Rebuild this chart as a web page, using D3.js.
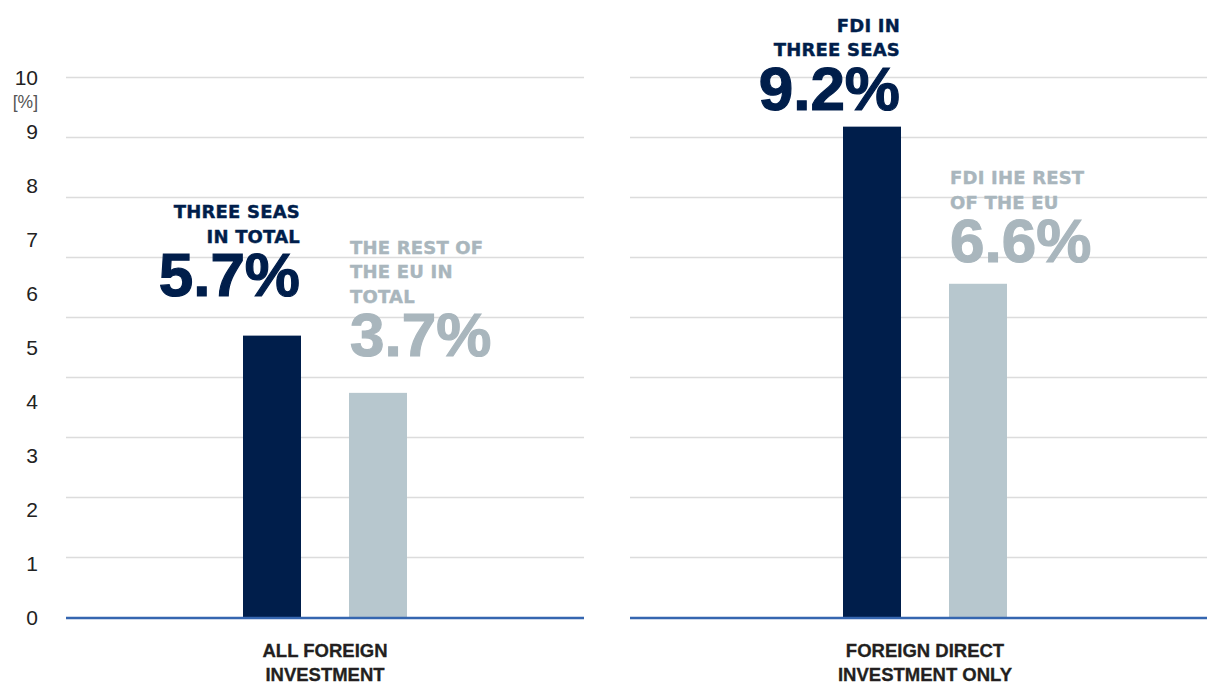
<!DOCTYPE html>
<html>
<head>
<meta charset="utf-8">
<script src="https://cdnjs.cloudflare.com/ajax/libs/d3/7.8.5/d3.min.js"></script>
<style>
  html, body { margin: 0; padding: 0; background: #fff; }
  svg { display: block; }
</style>
</head>
<body>
<svg id="chart" width="1207" height="684"></svg>
<script>
// data
var categories = [["ALL FOREIGN", "INVESTMENT"], ["FOREIGN DIRECT", "INVESTMENT ONLY"]];
var series = ["threeSeas", "restOfEu"];
var threeSeasBars = [5.22, 9.09];
var restOfEuBars = [4.16, 6.18];
var threeSeasText = ["5.7%", "9.2%"];
var restOfEuText = ["3.7%", "6.6%"];
var threeSeasCaption = [["THREE SEAS", "IN TOTAL"], ["FDI IN", "THREE SEAS"]];
var restOfEuCaption = [["THE REST OF", "THE EU IN", "TOTAL"], ["FDI IHE REST", "OF THE EU"]];
var yTicks = [0, 1, 2, 3, 4, 5, 6, 7, 8, 9, 10];
var gridCount = 9;

// layout
var panels = [[66, 584], [630, 1220]];
var numberAt = [[5.95, 4.84], [9.40, 6.58]]; // baseline of the big number, in axis units
var dark = "#001e4b", light = "#b7c7ce", lightText = "#a9b6bd";

var svg = d3.select("#chart");

var y = d3.scaleLinear().domain([0, 10]).range([617.5, 77.5]);

var inner = d3.scaleBand().domain(series).range([-82, 82]).paddingInner(48 / 106);

// grid lines (9 even steps, not on the ticks, as in the original)
var gridVals = d3.range(1, gridCount + 1).map(function(k) { return k * 10 / gridCount; });

panels.forEach(function(p) {
    svg.append("g").selectAll("line")
        .data(gridVals)
        .enter().append("line")
        .attr("x1", p[0]).attr("x2", p[1])
        .attr("y1", function(d) { return y(d); })
        .attr("y2", function(d) { return y(d); })
        .attr("stroke", "#dcdcdc")
        .attr("stroke-width", 1.5);
});

// y axis labels
var yAxis = d3.axisLeft(y).tickValues(yTicks).tickSize(0).tickPadding(0);
var ya = svg.append("g").attr("transform", "translate(38,0)").call(yAxis);
ya.select(".domain").remove();
ya.selectAll("text")
    .attr("font-family", "Liberation Sans, Arial, sans-serif")
    .attr("font-size", 21)
    .attr("fill", "#222");

svg.append("text")
    .attr("x", 38).attr("y", 108)
    .attr("text-anchor", "end")
    .attr("font-family", "Liberation Sans, Arial, sans-serif")
    .attr("font-size", 17.5)
    .attr("fill", "#555")
    .text("[%]");

var rows = categories.map(function(c, i) {
    return {
        cat: c,
        center: (panels[i][0] + panels[i][1]) / 2,
        bars: [
            {key: "threeSeas", v: threeSeasBars[i], txt: threeSeasText[i], cap: threeSeasCaption[i], at: numberAt[i][0]},
            {key: "restOfEu", v: restOfEuBars[i], txt: restOfEuText[i], cap: restOfEuCaption[i], at: numberAt[i][1]}
        ]
    };
});

rows.forEach(function(r, i) {
    var g = svg.append("g").attr("transform", "translate(" + r.center + ",0)");

    g.selectAll("rect")
        .data(r.bars)
        .enter().append("rect")
        .attr("x", function(d) { return inner(d.key); })
        .attr("width", inner.bandwidth())
        .attr("y", function(d) { return y(d.v); })
        .attr("height", function(d) { return y(0) - y(d.v); })
        .attr("fill", function(d) { return d.key == "threeSeas" ? dark : light; });

    r.bars.forEach(function(d) {
        var isDark = d.key == "threeSeas";
        var ax = isDark ? inner(d.key) + inner.bandwidth() - 1 : inner(d.key) + 1;
        var anchor = isDark ? "end" : "start";
        var col = isDark ? dark : lightText;
        var base = y(d.at);

        g.append("text")
            .attr("x", ax).attr("y", base)
            .attr("text-anchor", anchor)
            .attr("font-family", "Liberation Sans, Arial, sans-serif")
            .attr("font-weight", "bold")
            .attr("font-size", 62)
            .attr("stroke", col)
            .attr("stroke-width", 1.2)
            .attr("fill", col)
            .text(d.txt);

        var n = d.cap.length;
        d.cap.forEach(function(line, j) {
            g.append("text")
                .attr("x", ax).attr("y", base - 53.5 - (n - 1 - j) * 24.5)
                .attr("text-anchor", anchor)
                .attr("font-family", "DejaVu Sans, sans-serif")
                .attr("font-weight", "bold")
                .attr("font-size", 18)
                .attr("letter-spacing", 0.2)
                .attr("stroke", col)
                .attr("stroke-width", 0.4)
                .attr("fill", col)
                .text(line);
        });
    });

    // category label
    r.cat.forEach(function(line, j) {
        g.append("text")
            .attr("x", 0).attr("y", 657 + j * 24)
            .attr("text-anchor", "middle")
            .attr("font-family", "Liberation Sans, Arial, sans-serif")
            .attr("font-weight", "bold")
            .attr("font-size", 18.5)
            .attr("stroke", "#231f20")
            .attr("stroke-width", 0.3)
            .attr("fill", "#231f20")
            .text(line);
    });
});

// baselines
panels.forEach(function(p) {
    svg.append("line")
        .attr("x1", p[0]).attr("x2", p[1])
        .attr("y1", y(0) + 0.5).attr("y2", y(0) + 0.5)
        .attr("stroke", "#3566b0")
        .attr("stroke-width", 2.5);
});
</script>
</body>
</html>
